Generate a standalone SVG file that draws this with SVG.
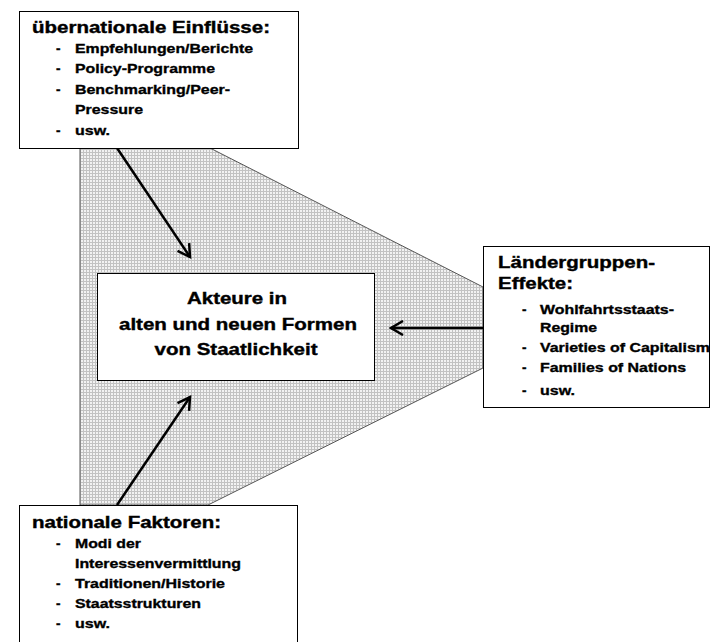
<svg xmlns="http://www.w3.org/2000/svg" width="711" height="642" viewBox="0 0 711 642">
<style>
.t{font-family:"Liberation Sans",Arial,sans-serif;font-weight:bold;font-size:17px;fill:#000;stroke:#000;stroke-width:0.4}
.s{font-family:"Liberation Sans",Arial,sans-serif;font-weight:bold;font-size:13.5px;fill:#000;stroke:#000;stroke-width:0.35}
.box{fill:#fff;stroke:#000;stroke-width:1}
.arr{stroke:#000;stroke-width:2.5;fill:none;marker-end:url(#ah)}
</style>
<defs>
<pattern id="dots" width="3" height="3" patternUnits="userSpaceOnUse">
<rect width="3" height="3" fill="#c2c2c2"/>
<rect width="2" height="2" fill="#f2f2f2"/>
</pattern>
<marker id="ah" markerWidth="16" markerHeight="16" refX="13" refY="8" orient="auto" markerUnits="userSpaceOnUse">
<path d="M1,1 L13,8 L1,15" fill="none" stroke="#000" stroke-width="2.5"/>
</marker>
</defs>
<g id="background">
<polygon points="80,148 210,148 483,287 483,368 208,505 80,505" fill="url(#dots)" stroke="#555" stroke-width="1"/>
</g>
<g id="connectors">
<line class="arr" x1="117" y1="148" x2="190" y2="257"/>
<line class="arr" x1="117" y1="505" x2="190" y2="397"/>
<line class="arr" x1="483" y1="328" x2="391" y2="328"/>
</g>
<g id="node-top">
<rect class="box" x="19.5" y="11.5" width="279" height="137"/>
<text class="t" x="32" y="33" textLength="238" lengthAdjust="spacingAndGlyphs">übernationale Einflüsse:</text>
<text class="s" x="56" y="53">-</text><text class="s" x="75" y="53" textLength="178" lengthAdjust="spacingAndGlyphs">Empfehlungen/Berichte</text>
<text class="s" x="56" y="73">-</text><text class="s" x="75" y="73" textLength="140" lengthAdjust="spacingAndGlyphs">Policy-Programme</text>
<text class="s" x="56" y="94">-</text><text class="s" x="75" y="94" textLength="155" lengthAdjust="spacingAndGlyphs">Benchmarking/Peer-</text>
<text class="s" x="75" y="114" textLength="68" lengthAdjust="spacingAndGlyphs">Pressure</text>
<text class="s" x="56" y="135">-</text><text class="s" x="75" y="135" textLength="35" lengthAdjust="spacingAndGlyphs">usw.</text>
</g>
<g id="node-center">
<rect class="box" x="97.5" y="273.5" width="277" height="107"/>
<text class="t" x="237" y="304" text-anchor="middle" textLength="100" lengthAdjust="spacingAndGlyphs">Akteure in</text>
<text class="t" x="238" y="330" text-anchor="middle" textLength="238" lengthAdjust="spacingAndGlyphs">alten und neuen Formen</text>
<text class="t" x="236" y="355" text-anchor="middle" textLength="163" lengthAdjust="spacingAndGlyphs">von Staatlichkeit</text>
</g>
<g id="node-right">
<rect class="box" x="483.5" y="246.5" width="226" height="161"/>
<text class="t" x="498" y="268" textLength="157" lengthAdjust="spacingAndGlyphs">Ländergruppen-</text>
<text class="t" x="498" y="289" textLength="75" lengthAdjust="spacingAndGlyphs">Effekte:</text>
<text class="s" x="522" y="314">-</text><text class="s" x="540" y="314" textLength="134" lengthAdjust="spacingAndGlyphs">Wohlfahrtsstaats-</text>
<text class="s" x="540" y="332" textLength="57" lengthAdjust="spacingAndGlyphs">Regime</text>
<text class="s" x="522" y="352">-</text><text class="s" x="540" y="352" textLength="170" lengthAdjust="spacingAndGlyphs">Varieties of Capitalism</text>
<text class="s" x="522" y="372">-</text><text class="s" x="540" y="372" textLength="146" lengthAdjust="spacingAndGlyphs">Families of Nations</text>
<text class="s" x="522" y="395">-</text><text class="s" x="540" y="395" textLength="35" lengthAdjust="spacingAndGlyphs">usw.</text>
</g>
<g id="node-bottom">
<rect class="box" x="19.5" y="505.5" width="278" height="145"/>
<text class="t" x="32" y="528" textLength="189" lengthAdjust="spacingAndGlyphs">nationale Faktoren:</text>
<text class="s" x="56" y="548">-</text><text class="s" x="75" y="548" textLength="66" lengthAdjust="spacingAndGlyphs">Modi der</text>
<text class="s" x="75" y="568" textLength="166" lengthAdjust="spacingAndGlyphs">Interessenvermittlung</text>
<text class="s" x="56" y="588">-</text><text class="s" x="75" y="588" textLength="150" lengthAdjust="spacingAndGlyphs">Traditionen/Historie</text>
<text class="s" x="56" y="608">-</text><text class="s" x="75" y="608" textLength="126" lengthAdjust="spacingAndGlyphs">Staatsstrukturen</text>
<text class="s" x="56" y="628">-</text><text class="s" x="75" y="628" textLength="35" lengthAdjust="spacingAndGlyphs">usw.</text>
</g>
</svg>
